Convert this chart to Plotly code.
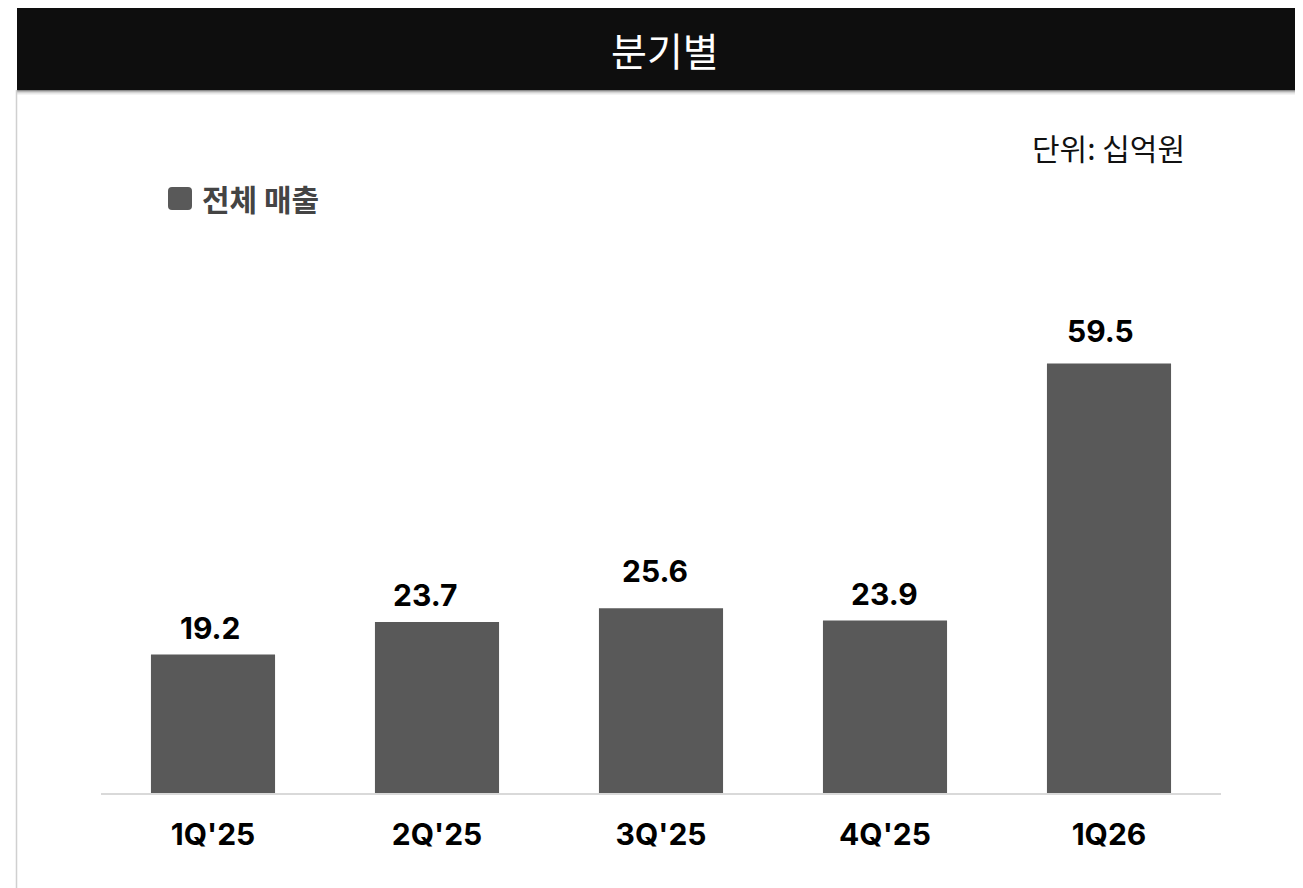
import plotly.graph_objects as go

categories = ["1Q'25", "2Q'25", "3Q'25", "4Q'25", "1Q26"]
revenue = [19.2, 23.7, 25.6, 23.9, 59.5]
value_labels = ["19.2", "23.7", "25.6", "23.9", "59.5"]
series_name = "전체 매출"
title_text = "분기별"
unit_text = "단위: 십억원"

# small nudges of value labels seen in the reference (style only, pixels)
label_dx = [-3, -12, -6, -1, -9]
label_dy = [-7, -6, 4, -7, -1]

BAR = "#595959"
OFF = 8  # page body margin
W, H = 1303, 888
# target page-pixel positions of plot area
PL, PR, PT, PB = 101, 1221, 300, 793
L = PL - OFF
T = PT - OFF
R = W - (PR - OFF)
B = H - (PB - OFF)
pw = PR - PL
ph = PB - PT

def px(x):
    return (x - PL) / pw

def py(y):
    return (PB - y) / ph

fig = go.Figure()
fig.add_trace(go.Bar(
    x=categories, y=revenue, marker=dict(color=BAR, line=dict(width=0)),
    width=0.554, showlegend=False, hoverinfo="skip",
))

LAT = "Inter, Liberation Sans, Arial"
ann = []
for c, v, t, dx, dy in zip(categories, revenue, value_labels, label_dx, label_dy):
    ann.append(dict(x=c, y=v, xref="x", yref="y", text=f"<b>{t}</b>", showarrow=False,
                    yanchor="bottom", yshift=13 + dy, xshift=dx,
                    font=dict(family=LAT, size=30, color="#000000")))

ann.append(dict(x=px(665), y=py(49), xref="paper", yref="paper", text=title_text, showarrow=False,
                xanchor="center", yanchor="middle",
                font=dict(family="Noto Sans CJK KR", size=39, color="#ffffff")))
ann.append(dict(x=px(1108), y=py(147), xref="paper", yref="paper", text=unit_text, showarrow=False,
                xanchor="center", yanchor="middle",
                font=dict(family="Noto Sans CJK KR", size=30, color="#111111")))
ann.append(dict(x=px(200), y=py(198), xref="paper", yref="paper", text=f"<b>{series_name}</b>", showarrow=False,
                xanchor="left", yanchor="middle",
                font=dict(family="Noto Sans CJK KR", size=30, color="#444444")))

shapes = []
# header shadow
for i, col in enumerate(["#8a8a8a", "#b5b5b5", "#d4d4d4", "#e8e8e8", "#f4f4f4"]):
    shapes.append(dict(type="rect", xref="paper", yref="paper",
                       x0=px(17), x1=px(1310), y0=py(90 + i + 1), y1=py(90 + i),
                       fillcolor=col, line=dict(width=0), layer="below"))
shapes.append(dict(type="rect", xref="paper", yref="paper",
                   x0=px(17), x1=px(1310), y0=py(90), y1=py(7),
                   fillcolor="#0e0e0e", line=dict(width=0)))
# left card border
shapes.append(dict(type="line", xref="paper", yref="paper",
                   x0=px(16.5), x1=px(16.5), y0=py(90), y1=py(900),
                   line=dict(color="#d0d0d0", width=1.5)))

# rounded legend swatch
def rrect(x0, y0, x1, y1, r):
    pts = [
        f"M {px(x0 + r)},{py(y0)}",
        f"L {px(x1 - r)},{py(y0)}",
        f"Q {px(x1)},{py(y0)} {px(x1)},{py(y0 + r)}",
        f"L {px(x1)},{py(y1 - r)}",
        f"Q {px(x1)},{py(y1)} {px(x1 - r)},{py(y1)}",
        f"L {px(x0 + r)},{py(y1)}",
        f"Q {px(x0)},{py(y1)} {px(x0)},{py(y1 - r)}",
        f"L {px(x0)},{py(y0 + r)}",
        f"Q {px(x0)},{py(y0)} {px(x0 + r)},{py(y0)}",
        "Z",
    ]
    return " ".join(pts)

shapes.append(dict(type="path", xref="paper", yref="paper",
                   path=rrect(168, 187, 192, 210, 4),
                   fillcolor=BAR, line=dict(width=0)))

fig.update_layout(
    width=W, height=H,
    margin=dict(l=L, r=R, t=T, b=B, autoexpand=False),
    paper_bgcolor="#ffffff", plot_bgcolor="#ffffff",
    xaxis=dict(showgrid=False, showline=True, linecolor="#d9d9d9", linewidth=2,
               ticks="", ticklabelstandoff=14,
               tickfont=dict(family=LAT, size=30, color="#000000", weight="bold"),
               fixedrange=True),
    yaxis=dict(range=[0, ph / 7.22], showgrid=False, showticklabels=False, zeroline=False,
               showline=False, ticks="", fixedrange=True),
    annotations=ann, shapes=shapes,
)

fig.write_html("out.html", config={"displayModeBar": False})
